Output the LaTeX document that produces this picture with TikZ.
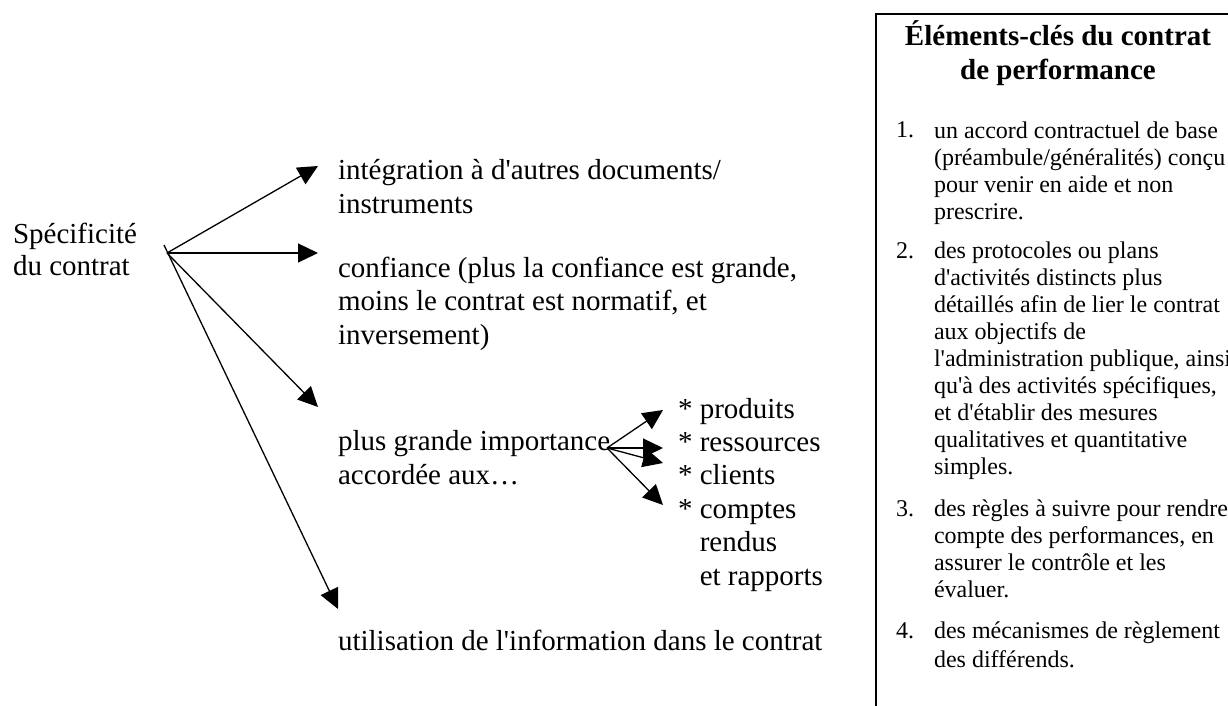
\documentclass[tikz,border=0pt]{standalone}
\usepackage{fontspec}
\setmainfont{Liberation Serif}
\newfontfamily\timesfont{Liberation Serif}
\usetikzlibrary{arrows.meta}

\begin{document}
\begin{tikzpicture}[x=1pt, y=-1pt, line width=1.3pt,
    every node/.style={inner sep=0pt, outer sep=0pt},
    maintext/.style={anchor=base west, align=left, font=\timesfont\fontsize{29}{33.4}\selectfont},
    listtext/.style={anchor=base west, align=left, font=\timesfont\fontsize{24}{27}\selectfont},
    branch/.style={-{Triangle[length=20pt, width=19pt]}}]
    \useasboundingbox (0,0) rectangle (1228,706);
    \clip (0,0) rectangle (1228,706);

    % left part (node base = baseline of last line)
    \node[maintext, font=\timesfont\fontsize{29}{32}\selectfont] (spec) at (13,275) {Spécificité\\du contrat};
    \coordinate (hub) at (167,253);
    \coordinate (hubtail) at (164,245);
    \node[maintext] (integ) at (338,213) {intégration à d'autres documents/\\instruments};
    \node[maintext] (conf) at (338,344) {confiance (plus la confiance est grande,\\moins le contrat est normatif, et\\inversement)};
    \node[maintext] (import) at (338,484) {plus grande importance\\accordée aux…};
    \node[maintext] (util) at (338,650) {utilisation de l'information dans le contrat};
    \node[maintext] (focus) at (678,585) {* produits\\* ressources\\* clients\\* comptes\\\phantom{* }rendus\\\phantom{* }et rapports};

    \coordinate (tipinteg) at (318,166);
    \coordinate (tipconf) at (318,253);
    \coordinate (tipimport) at (318,407);
    \coordinate (tiputil) at (338,609);
    \draw[branch] (hub) -- (tipinteg);
    \draw[branch] (hub) -- (tipconf);
    \draw[branch] (hub) -- (tipimport);
    \draw[branch] (hubtail) -- (tiputil);

    \coordinate (subhub) at (607,448);
    \coordinate (tipprod) at (663,410);
    \coordinate (tipres) at (663,448);
    \coordinate (tipcli) at (663,463);
    \coordinate (tipcomp) at (663,505);
    \foreach \t in {tipprod,tipres,tipcli,tipcomp}
        \draw[branch] (subhub) -- (\t);

    % key elements box
    \draw[line width=2pt] (876,14) rectangle (1250,730);
    \node[anchor=base, align=center, font=\timesfont\bfseries\fontsize{29}{34}\selectfont] (title) at (1058,80) {Éléments-clés du contrat\\de performance};
    \node[listtext] (n1) at (896,138) {1.};
    \node[listtext] (item1) at (934,219) {un accord contractuel de base\\(préambule/généralités) conçu\\pour venir en aide et non\\prescrire.};
    \node[listtext] (n2) at (896,258) {2.};
    \node[listtext] (item2) at (934,474) {des protocoles ou plans\\d'activités distincts plus\\détaillés afin de lier le contrat\\aux objectifs de\\l'administration publique, ainsi\\qu'à des activités spécifiques,\\et d'établir des mesures\\qualitatives et quantitative\\simples.};
    \node[listtext] (n3) at (896,516) {3.};
    \node[listtext] (item3) at (934,597) {des règles à suivre pour rendre\\compte des performances, en\\assurer le contrôle et les\\évaluer.};
    \node[listtext] (n4) at (896,638) {4.};
    \node[listtext, font=\timesfont\fontsize{24}{29}\selectfont] (item4) at (934,667) {des mécanismes de règlement\\des différends.};
\end{tikzpicture}
\end{document}
